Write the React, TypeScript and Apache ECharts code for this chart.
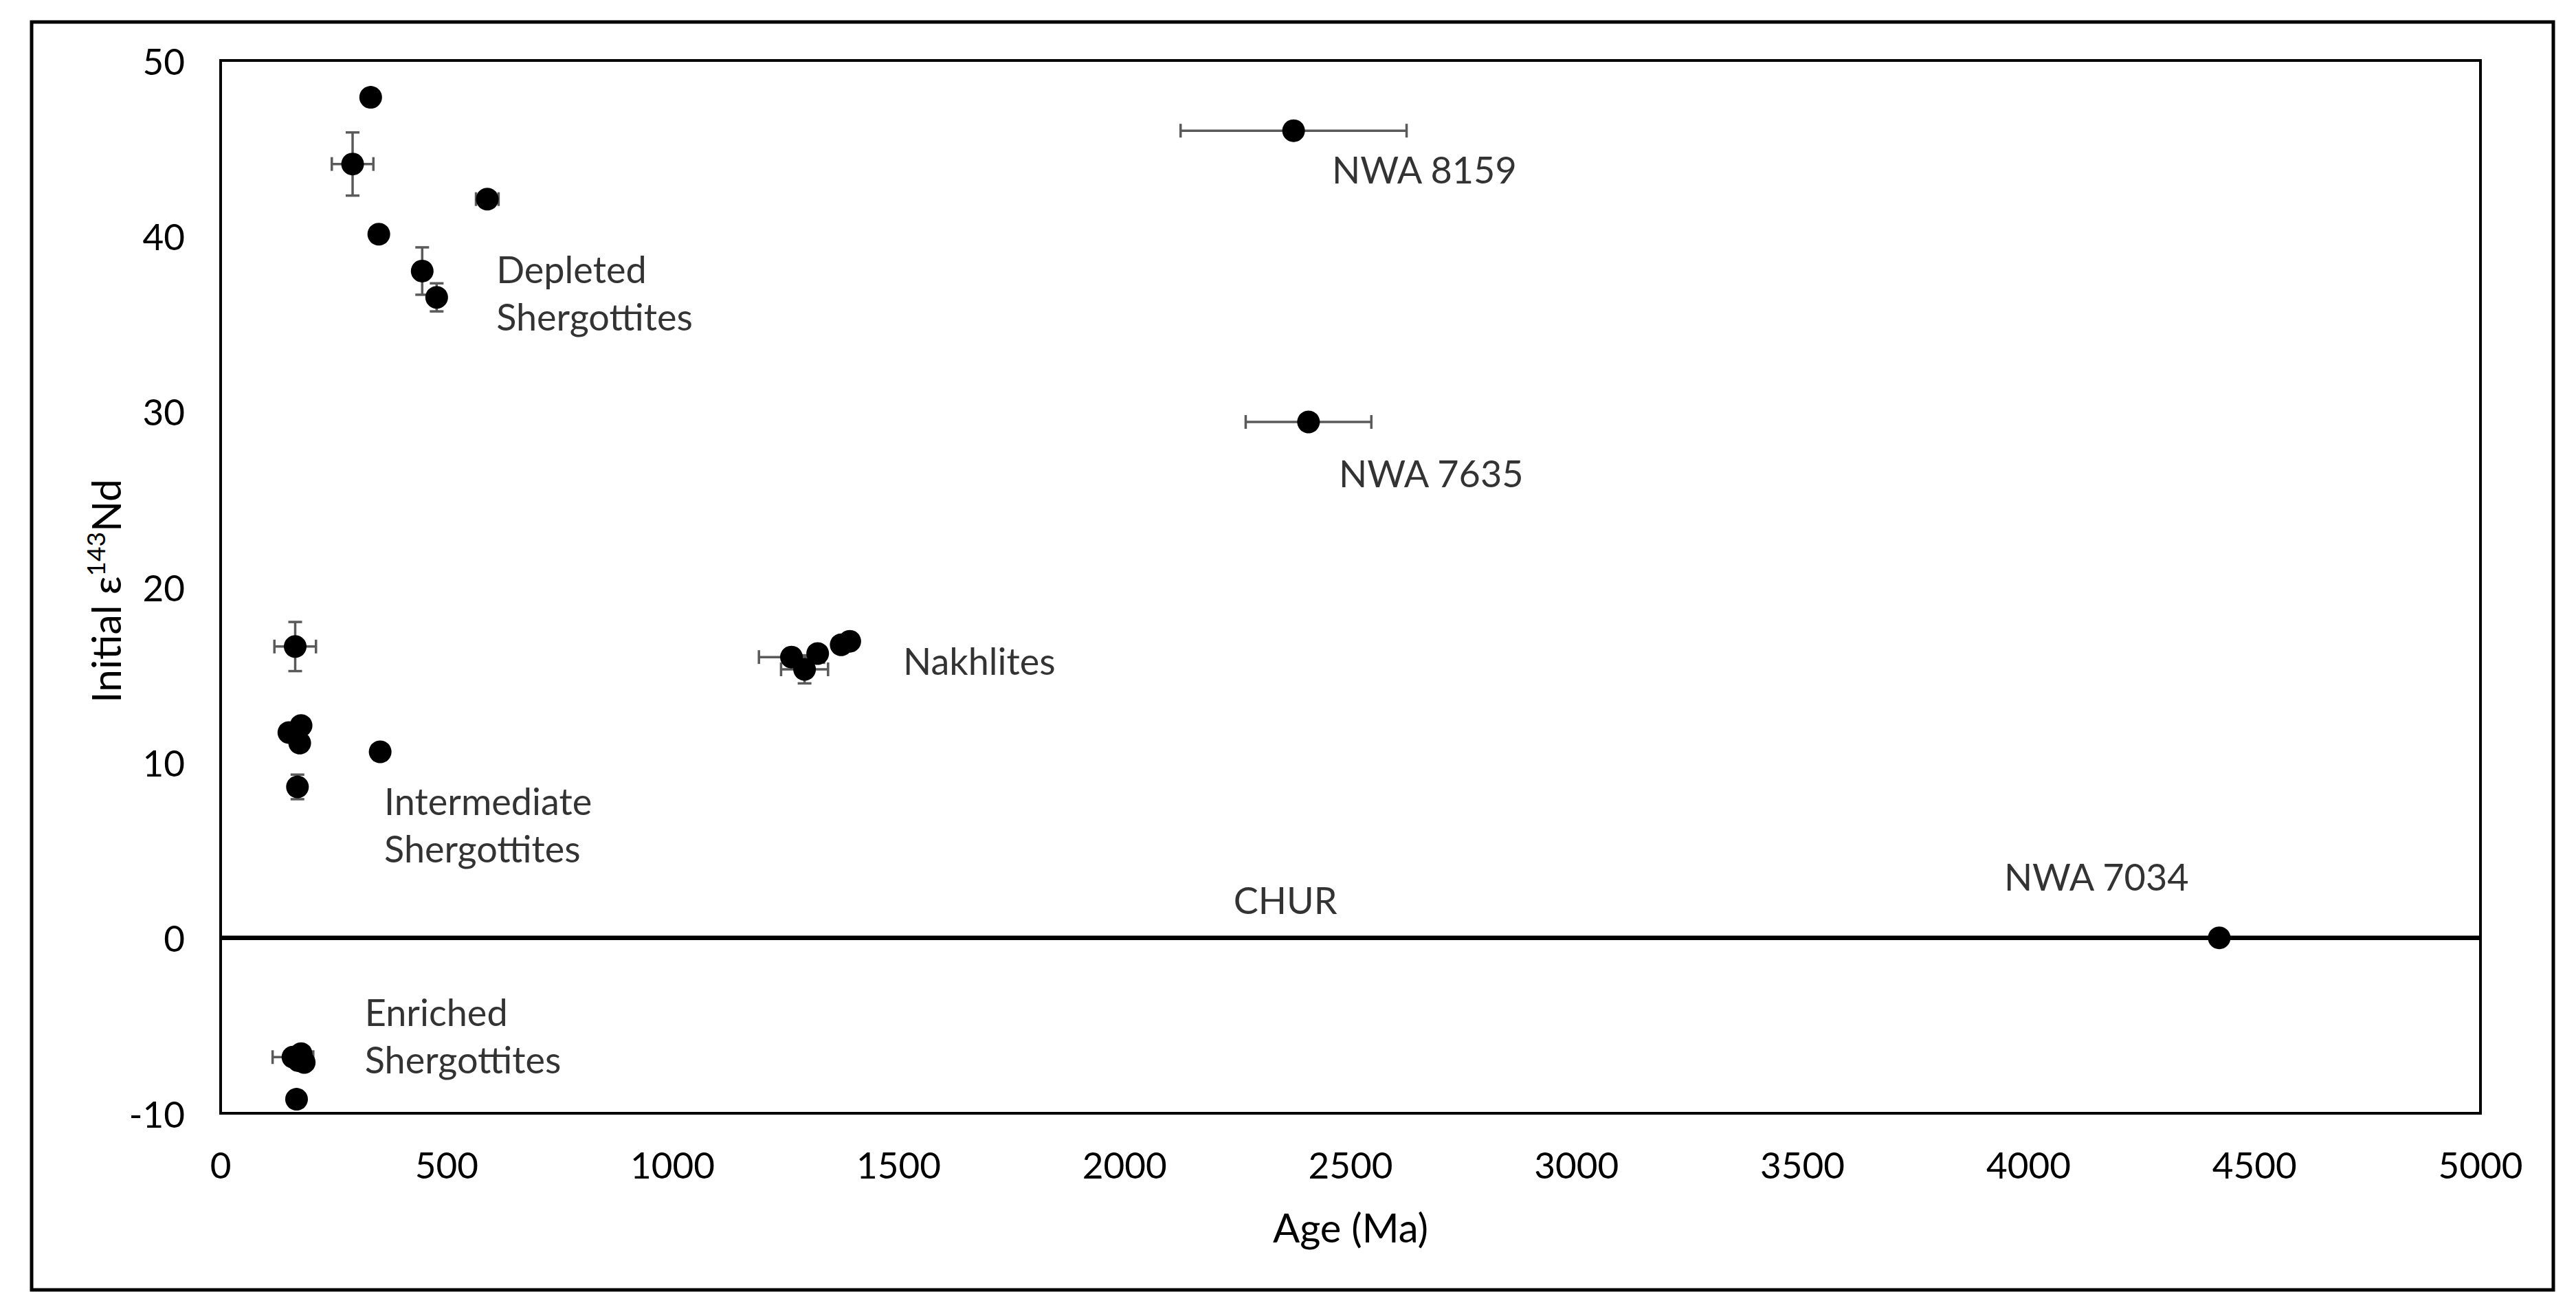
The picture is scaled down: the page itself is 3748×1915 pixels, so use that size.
import React, { useEffect, useRef } from "react";
import * as echarts from "echarts";

// ---- data (Age in Ma, initial epsilon 143Nd) ----
const depletedAge = [332, 292, 590, 350, 446, 478];
const depletedEps = [47.9, 44.1, 42.1, 40.1, 38.0, 36.5];

const intermediateAge = [165, 151, 178, 175, 353, 170];
const intermediateEps = [16.6, 11.7, 12.1, 11.1, 10.6, 8.6];

const enrichedAge = [160, 178, 185, 172, 168];
const enrichedEps = [-6.8, -6.6, -7.1, -7.0, -9.2];

const nakhliteAge = [1263, 1292, 1321, 1373, 1392];
const nakhliteEps = [16.0, 15.3, 16.2, 16.7, 16.9];

const otherNames = ["NWA 8159", "NWA 7635", "NWA 7034"];
const otherAge = [2374, 2407, 4422];
const otherEps = [46.0, 29.4, 0];

// error bars: age, eps, ±age, ±eps
const errAge = [292, 590, 446, 478, 165, 170, 1263, 1292, 160, 2374, 2407];
const errEps = [44.1, 42.1, 38.0, 36.5, 16.6, 8.6, 16.0, 15.3, -6.8, 46.0, 29.4];
const errAgePM = [46, 25, 0, 0, 46, 0, 72, 52, 45, 250, 139];
const errEpsPM = [1.8, 0, 1.35, 0.8, 1.4, 0.7, 0, 0.8, 0, 0, 0];

// annotation texts and their anchor (data units)
const noteTexts = [
  "Depleted\nShergottites",
  "NWA 8159",
  "NWA 7635",
  "Nakhlites",
  "Intermediate\nShergottites",
  "CHUR",
  "NWA 7034",
  "Enriched\nShergottites",
];
const noteAge = [610, 2459, 2474, 1510, 362, 2241, 3946, 319];
const noteEps = [36.75, 43.8, 26.5, 15.8, 6.46, 2.15, 3.5, -5.56];

const xTicks = { min: 0, max: 5000, interval: 500 };
const yTicks = { min: -10, max: 50, interval: 10 };
const chur = 0;

const FONT = "Lato";

function zip(a: number[], b: number[]) {
  return a.map((v, i) => [v, b[i]]);
}

export default function App() {
  const ref = useRef<HTMLDivElement>(null);
  useEffect(() => {
    document.body.style.margin = "0";
    const chart = echarts.init(ref.current!, null, { renderer: "svg" });
    const errData = errAge.map((a, i) => [a, errEps[i], errAgePM[i], errEpsPM[i]]);
    const dotSeries = (name: string, data: number[][]) => ({
      name,
      type: "scatter",
      data,
      symbol: "circle",
      symbolSize: 33,
      itemStyle: { color: "#000", opacity: 1 },
      z: 5,
      silent: true,
    });
    const option: any = {
      animation: false,
      backgroundColor: "#fff",
      grid: {
        left: 321,
        top: 88,
        right: 139,
        bottom: 295,
        show: true,
        borderColor: "#000",
        borderWidth: 4,
        backgroundColor: "transparent",
      },
      xAxis: {
        type: "value",
        min: xTicks.min,
        max: xTicks.max,
        interval: xTicks.interval,
        axisLine: { show: false },
        axisTick: { show: false },
        splitLine: { show: false },
        axisLabel: {
          fontFamily: FONT,
          fontSize: 53,
          color: "#000",
          margin: 48,
          formatter: (v: number) => String(v),
        },
        name: "Age (Ma)",
        nameLocation: "middle",
        nameGap: 136,
        nameTextStyle: { fontFamily: FONT, fontSize: 58, color: "#000" },
      },
      yAxis: {
        type: "value",
        min: yTicks.min,
        max: yTicks.max,
        interval: yTicks.interval,
        axisLine: { show: false },
        axisTick: { show: false },
        splitLine: { show: false },
        axisLabel: {
          fontFamily: FONT,
          fontSize: 53,
          color: "#000",
          margin: 52,
          formatter: (v: number) => String(v),
        },
      },
      graphic: [
        {
          type: "rect",
          shape: { x: 46, y: 32, width: 3669, height: 1845 },
          style: { fill: "none", stroke: "#000", lineWidth: 5 },
          silent: true,
          z: 0,
        },
        {
          type: "text",
          x: 148,
          y: 860,
          rotation: Math.PI / 2,
          style: {
            text: "{a|Initial ε}{s|143}{a|Nd}",
            align: "center",
            verticalAlign: "middle",
            rich: {
              a: { fontFamily: FONT, fontSize: 59, fill: "#000", verticalAlign: "bottom", lineHeight: 70 },
              s: { fontFamily: FONT, fontSize: 37, fill: "#000", verticalAlign: "bottom", lineHeight: 70, padding: [0, 0, 26, 0] },
            },
          },
        },
      ],
      series: [
        {
          type: "custom",
          data: errData,
          z: 3,
          silent: true,
          renderItem: (params: any, api: any) => {
            const x = api.value(0);
            const y = api.value(1);
            const dx = api.value(2);
            const dy = api.value(3);
            const children: any[] = [];
            const st = { stroke: "#5a5a5a", lineWidth: 3.5 };
            const cap = 10;
            if (dx > 0) {
              const p1 = api.coord([x - dx, y]);
              const p2 = api.coord([x + dx, y]);
              children.push({ type: "line", shape: { x1: p1[0], y1: p1[1], x2: p2[0], y2: p2[1] }, style: st });
              children.push({ type: "line", shape: { x1: p1[0], y1: p1[1] - cap, x2: p1[0], y2: p1[1] + cap }, style: st });
              children.push({ type: "line", shape: { x1: p2[0], y1: p2[1] - cap, x2: p2[0], y2: p2[1] + cap }, style: st });
            }
            if (dy > 0) {
              const p1 = api.coord([x, y - dy]);
              const p2 = api.coord([x, y + dy]);
              children.push({ type: "line", shape: { x1: p1[0], y1: p1[1], x2: p2[0], y2: p2[1] }, style: st });
              children.push({ type: "line", shape: { x1: p1[0] - cap, y1: p1[1], x2: p1[0] + cap, y2: p1[1] }, style: st });
              children.push({ type: "line", shape: { x1: p2[0] - cap, y1: p2[1], x2: p2[0] + cap, y2: p2[1] }, style: st });
            }
            return { type: "group", children };
          },
        },
        {
          type: "line",
          data: [
            [xTicks.min, chur],
            [xTicks.max, chur],
          ],
          symbol: "none",
          lineStyle: { color: "#000", width: 6.5 },
          z: 2,
          silent: true,
        },
        dotSeries("Depleted", zip(depletedAge, depletedEps)),
        dotSeries("Intermediate", zip(intermediateAge, intermediateEps)),
        dotSeries("Enriched", zip(enrichedAge, enrichedEps)),
        dotSeries("Nakhlites", zip(nakhliteAge, nakhliteEps)),
        dotSeries("Others", zip(otherAge, otherEps)),
        {
          type: "scatter",
          symbolSize: 0,
          silent: true,
          z: 6,
          data: noteTexts.map((t, i) => ({ value: [noteAge[i], noteEps[i]], name: t })),
          label: {
            show: true,
            position: [0, 0],
            align: "left",
            verticalAlign: "middle",
            formatter: (p: any) => p.name,
            fontFamily: FONT,
            fontSize: 54,
            color: "#000",
            lineHeight: 69,
          },
        },
      ],
    };
    chart.setOption(option);
    return () => chart.dispose();
  }, []);
  return <div ref={ref} style={{ width: 3748, height: 1915 }} />;
}
